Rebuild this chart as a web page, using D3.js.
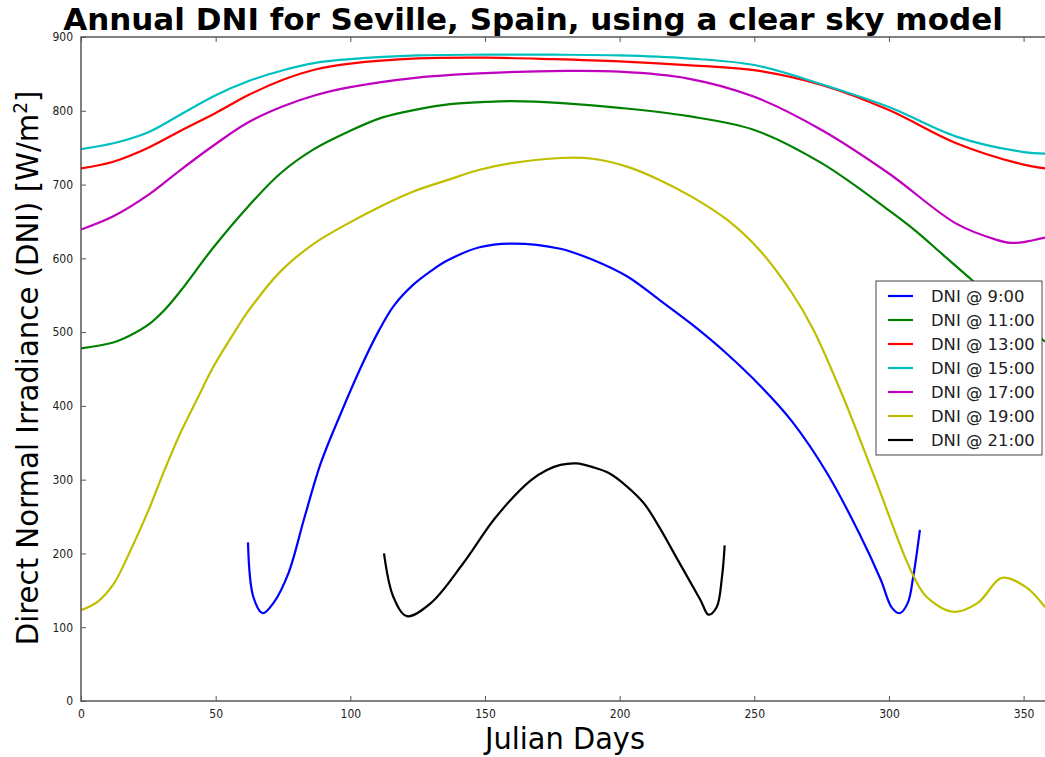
<!DOCTYPE html>
<html>
<head>
<meta charset="utf-8">
<script src="https://cdn.jsdelivr.net/npm/d3@7"></script>
<style>
  body { margin: 0; background: #fff; }
  text { font-family: "DejaVu Sans", sans-serif; }
</style>
</head>
<body>
<script>
// chart data
var labels = ["DNI @ 9:00", "DNI @ 11:00", "DNI @ 13:00", "DNI @ 15:00", "DNI @ 17:00", "DNI @ 19:00", "DNI @ 21:00"];
var colors = ["#0000ff", "#008000", "#ff0000", "#00bfbf", "#bf00bf", "#bfbf00", "#000000"];

var dni9 = [[62, 215], [64, 141], [67.5, 119], [71.5, 133], [77, 173], [83, 249], [89, 322], [96.5, 390],
  [104, 453], [110.6, 502], [116, 535], [123, 563], [130, 583], [136, 597], [148, 615], [160, 620], [178, 613],
  [190, 598], [203, 575], [215, 543], [227, 510], [240, 470], [252, 428], [264, 379], [277, 309], [289, 227],
  [297, 164], [301, 127], [304, 119], [307, 133], [309, 168], [311.5, 232]];
var dni11 = [[0, 478], [12, 486], [18, 495], [25, 510], [31, 530], [37, 556], [49, 614], [62, 670], [74, 715],
  [86.5, 748], [100, 773], [112, 791], [125, 802], [137, 809], [150, 812], [160, 813], [180, 810], [200, 804],
  [225, 793], [250, 774], [275, 729], [300, 665], [310, 637], [320, 605], [331, 570], [340, 543], [350, 512],
  [358, 487]];
var dni13 = [[0, 722], [12, 731], [25, 750], [37, 773], [50, 797], [62, 821], [75, 842], [87, 856], [100, 864],
  [125, 871], [150, 872], [175, 870], [200, 867], [225, 862], [250, 855], [275, 835], [300, 801], [325, 756],
  [350, 727], [358, 722]];
var dni15 = [[0, 748], [12, 756], [25, 771], [37, 795], [50, 821], [62, 840], [75, 855], [87, 865], [100, 870],
  [125, 875], [150, 876], [175, 876], [200, 875], [225, 871], [250, 862], [275, 836], [300, 805], [325, 765],
  [350, 744], [358, 742]];
var dni17 = [[0, 639], [12, 657], [25, 686], [37, 720], [50, 755], [62, 784], [75, 806], [87, 821], [100, 832],
  [125, 845], [150, 851], [180, 854], [200, 853], [225, 844], [250, 819], [275, 774], [300, 715], [325, 647],
  [340, 625], [345, 621], [350, 622], [358, 628]];
var dni19 = [[0, 123], [6, 134], [12, 158], [18.5, 205], [25, 258], [31, 313], [37, 364], [43.5, 412], [49, 452],
  [57.5, 503], [62, 528], [74, 582], [86.5, 620], [99, 647], [111, 670], [123, 690], [136, 706], [148, 720],
  [160, 729], [178, 736], [190, 735], [203, 724], [215, 706], [227, 683], [240, 652], [252, 611], [264, 553],
  [272, 503], [283, 412], [295, 300], [308, 178], [314, 141], [324, 121], [333, 133], [342, 167], [351, 154],
  [358, 127]];
var dni21 = [[112.5, 200], [116, 141], [121, 115], [130, 133], [142, 187], [154, 249], [167, 299], [173, 313],
  [178, 320], [184, 322], [190, 317], [196, 309], [202, 293], [209, 268], [215, 234], [221, 195], [230, 137],
  [233, 117], [236, 127], [238, 168], [239, 211]];

var series = [dni9, dni11, dni13, dni15, dni17, dni19, dni21];

var xTicks = [0, 50, 100, 150, 200, 250, 300, 350];
var yTicks = [0, 100, 200, 300, 400, 500, 600, 700, 800, 900];

// plot area (the right edge lies past the picture, as in the reference crop)
var plot = {left: 81, top: 37, bottom: 701, right: 1064};

var svg = d3.select("body").append("svg")
    .attr("width", 1045)
    .attr("height", 757);

var x = d3.scaleLinear().domain([0, 365]).range([plot.left, plot.right]);
var y = d3.scaleLinear().domain([0, 900]).range([plot.bottom, plot.top]);

svg.append("clipPath").attr("id", "clip")
  .append("rect")
    .attr("x", plot.left).attr("y", plot.top)
    .attr("width", plot.right - plot.left).attr("height", plot.bottom - plot.top);

var line = d3.line()
    .x(function(d) { return x(d[0]); })
    .y(function(d) { return y(d[1]); })
    .curve(d3.curveCatmullRom.alpha(0.5));

svg.append("g").attr("clip-path", "url(#clip)")
  .selectAll("path")
  .data(series)
  .enter().append("path")
    .attr("fill", "none")
    .attr("stroke", function(d, i) { return colors[i]; })
    .attr("stroke-width", 2.2)
    .attr("d", line);

// axes, ticks pointing inward like matplotlib classic
var axisColor = "#555";
function styleAxis(g) {
  g.select(".domain").remove();
  g.selectAll(".tick line").attr("stroke", axisColor);
  g.selectAll(".tick text")
    .attr("fill", "#222")
    .style("font-family", "'DejaVu Sans Condensed', 'Liberation Sans Narrow', sans-serif")
    .style("font-size", "12px");
}

svg.append("g")
    .attr("transform", "translate(0," + plot.bottom + ")")
    .call(d3.axisBottom(x).tickValues(xTicks).tickSize(-5).tickPadding(8))
    .call(styleAxis);

svg.append("g")
    .attr("transform", "translate(0," + plot.top + ")")
    .call(d3.axisTop(x).tickValues(xTicks).tickSize(-5).tickFormat(""))
    .call(styleAxis);

svg.append("g")
    .attr("transform", "translate(" + plot.left + ",0)")
    .call(d3.axisLeft(y).tickValues(yTicks).tickSize(-5).tickPadding(8))
    .call(styleAxis);

// frame
svg.append("rect")
    .attr("x", plot.left).attr("y", plot.top)
    .attr("width", plot.right - plot.left).attr("height", plot.bottom - plot.top)
    .attr("fill", "none")
    .attr("stroke", axisColor)
    .attr("stroke-width", 1.5);

// squeeze a text horizontally to a given width
function fitWidth(sel, w) {
  var len = sel.node().getComputedTextLength();
  return len > 0 ? w / len : 1;
}

// title
var title = svg.append("text")
    .attr("text-anchor", "middle")
    .style("font-size", "30px")
    .style("font-weight", "bold")
    .text("Annual DNI for Seville, Spain, using a clear sky model");
var ts = fitWidth(title, 940);
title.attr("transform", "translate(533,30) scale(" + ts + ",1)");

// x label
var xl = svg.append("text")
    .attr("text-anchor", "middle")
    .style("font-size", "30px")
    .text("Julian Days");
var xs = fitWidth(xl, 160);
xl.attr("transform", "translate(565,749) scale(" + xs + ",1)");

// y label
var yl = svg.append("text")
    .attr("text-anchor", "middle")
    .style("font-size", "30px");
yl.append("tspan").text("Direct Normal Irradiance (DNI) [W/m");
yl.append("tspan").attr("dy", -11).style("font-size", "19px").text("2");
yl.append("tspan").attr("dy", 11).text("]");
var ys = fitWidth(yl, 555);
yl.attr("transform", "translate(38,368) rotate(-90) scale(" + ys + ",1)");

// legend
var legend = svg.append("g");
legend.append("rect")
    .attr("x", 876).attr("y", 281)
    .attr("width", 166).attr("height", 174)
    .attr("fill", "#fff")
    .attr("stroke", "#444")
    .attr("stroke-width", 1);

var item = legend.selectAll("g.item")
  .data(labels)
  .enter().append("g")
    .attr("class", "item")
    .attr("transform", function(d, i) { return "translate(0," + (296 + i * 24) + ")"; });

item.append("line")
    .attr("x1", 888).attr("x2", 913)
    .attr("stroke", function(d, i) { return colors[i]; })
    .attr("stroke-width", 2.2);

item.append("text")
    .attr("x", 931)
    .attr("dy", "0.35em")
    .style("font-size", "16.4px")
    .attr("fill", "#222")
    .text(function(d) { return d; });
</script>
</body>
</html>
